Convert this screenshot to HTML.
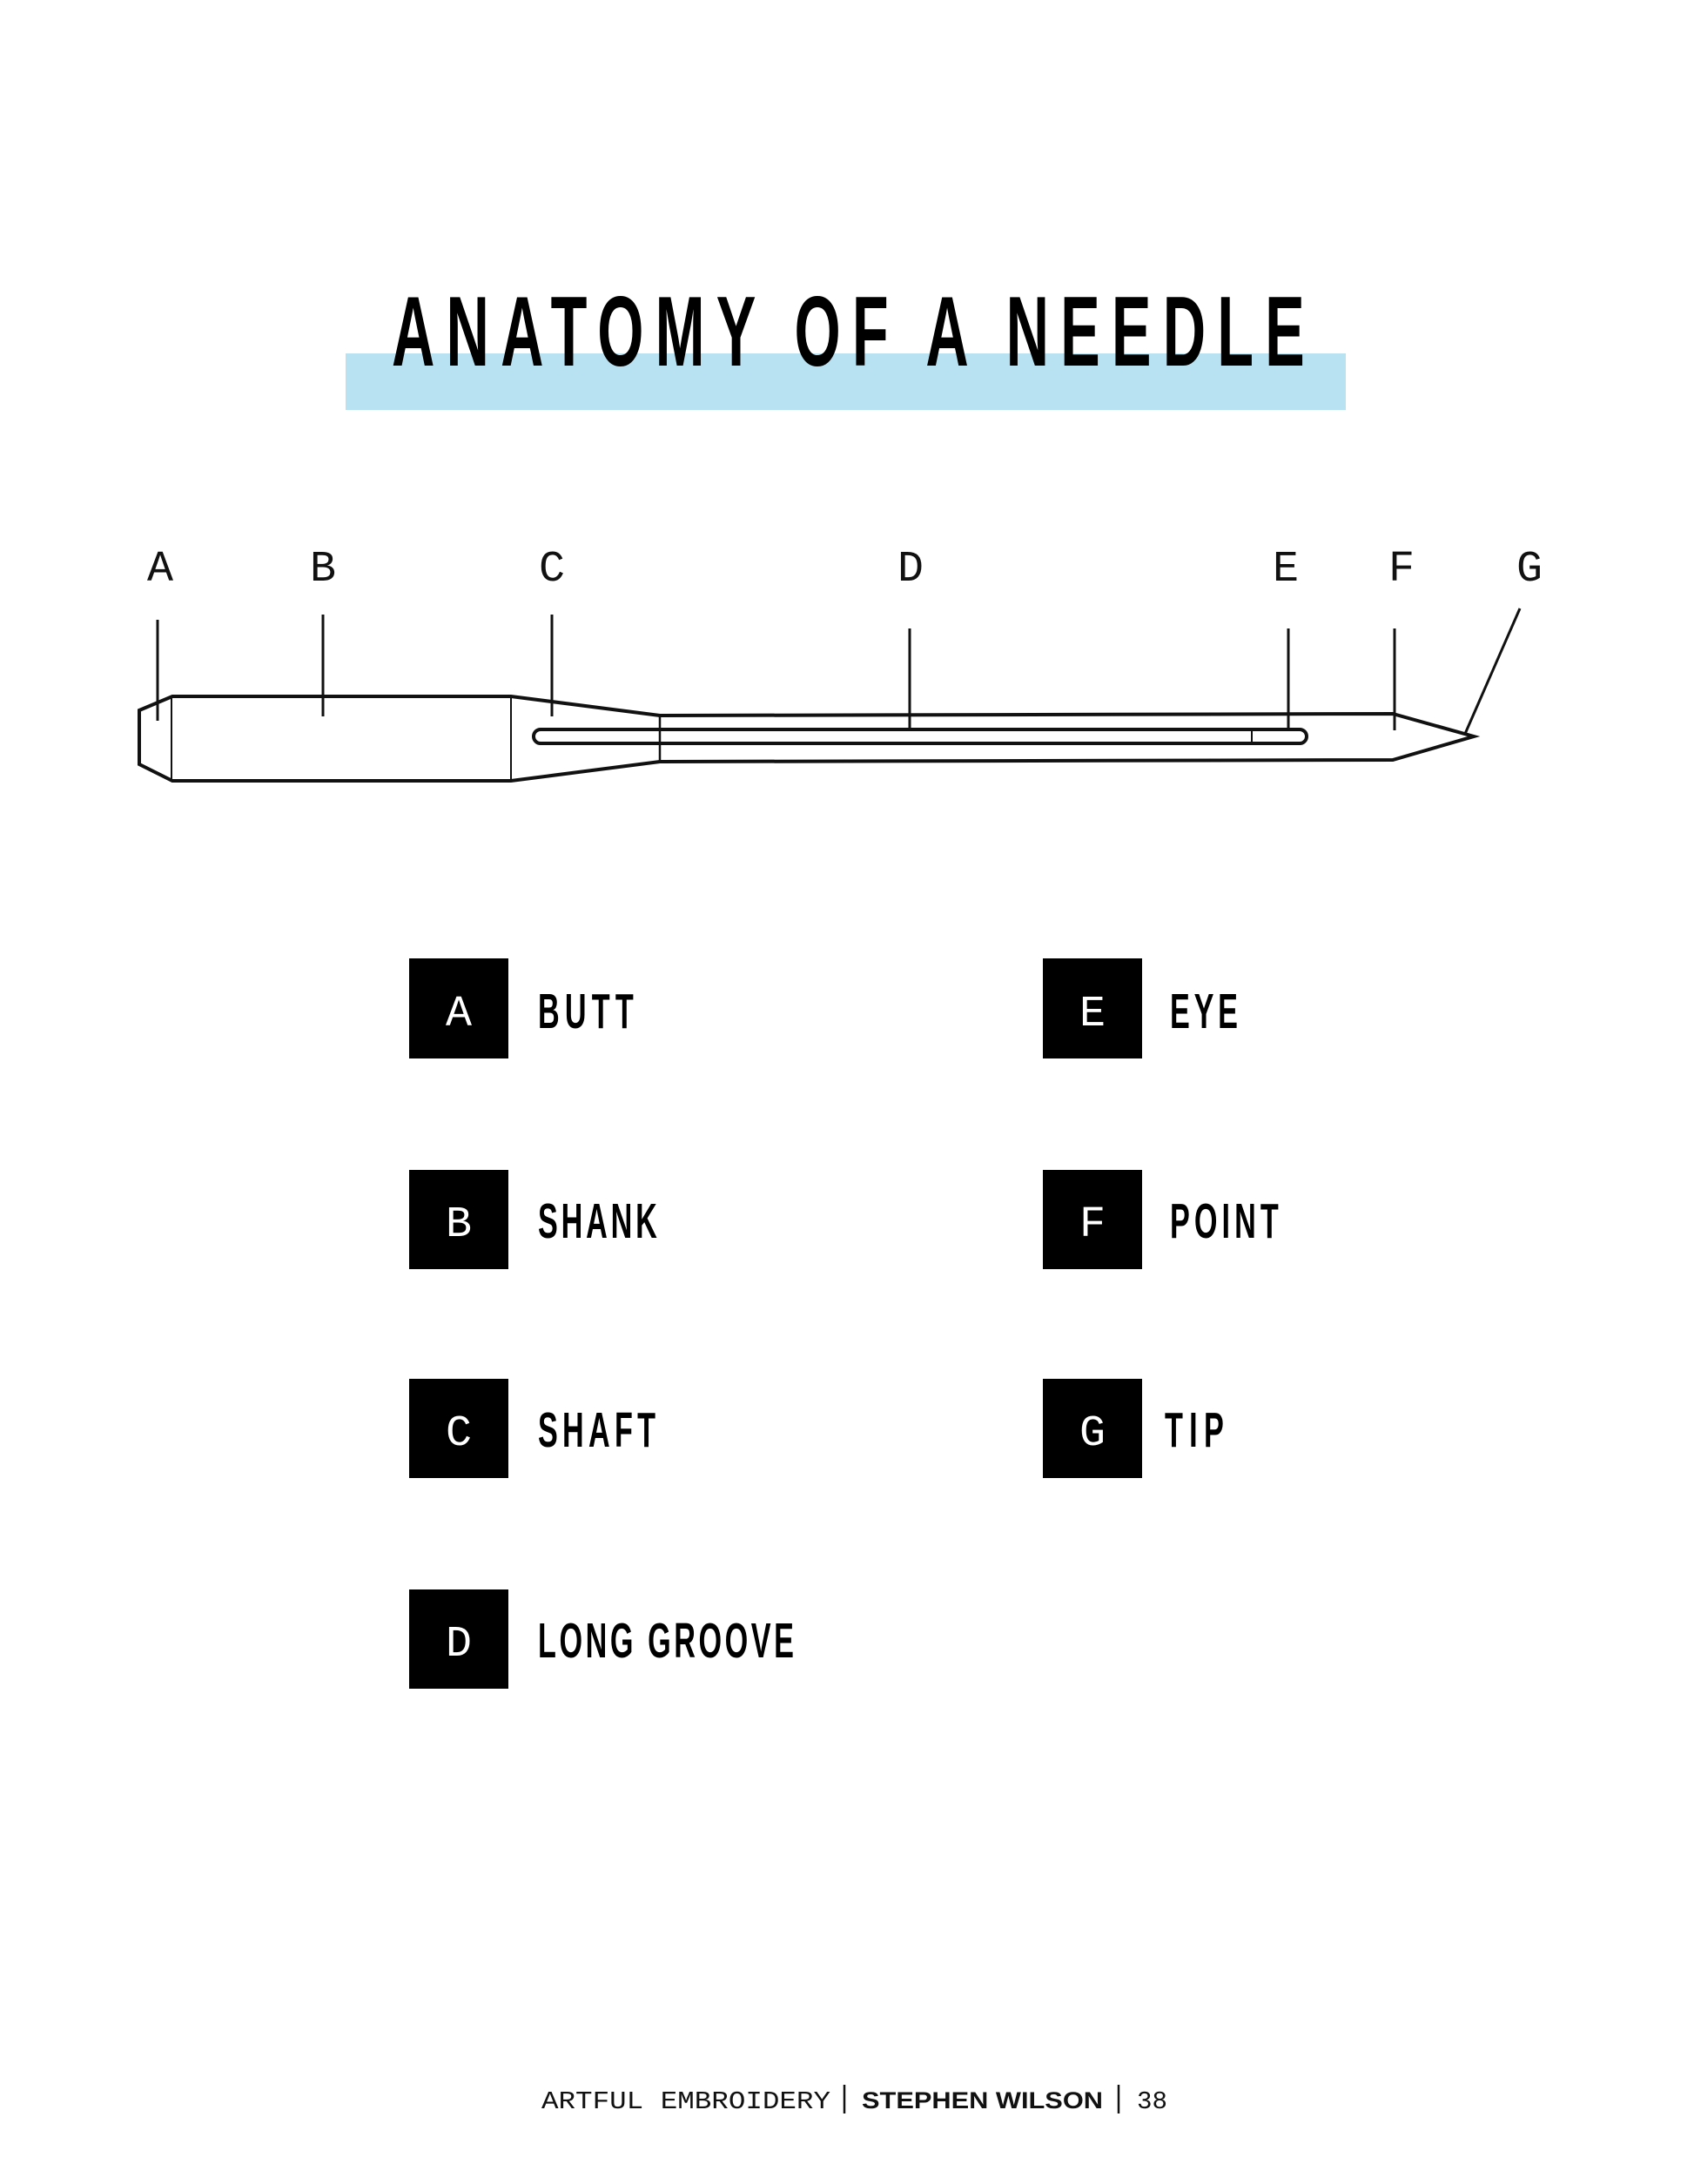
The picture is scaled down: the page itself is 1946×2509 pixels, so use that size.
<!DOCTYPE html>
<html><head><meta charset="utf-8"><style>html,body{margin:0;padding:0;background:#fff}svg{display:block}</style></head>
<body>
<svg width="1946" height="2509" viewBox="0 0 1946 2509" xmlns="http://www.w3.org/2000/svg">
<rect width="1946" height="2509" fill="#fff"/>
<rect x="397" y="406" width="1149" height="65" fill="#b8e2f1"/>
<g transform="translate(450 420) scale(0.6 1)">
<text x="0" y="0" font-family="'Liberation Sans Narrow', 'Liberation Sans', sans-serif" font-weight="bold" font-size="114" textLength="1748" lengthAdjust="spacing" fill="#000">ANATOMY OF A NEEDLE</text>
</g>

<g font-family="'Liberation Mono', 'Courier New', monospace" font-size="50" fill="#111" text-anchor="middle">
<text x="184" y="667">A</text><text x="371" y="667">B</text><text x="634" y="667">C</text><text x="1046" y="667">D</text><text x="1477" y="667">E</text><text x="1610" y="667">F</text><text x="1757" y="667">G</text>
</g>
<g stroke="#111" fill="none" stroke-width="3">
<line x1="181" y1="712" x2="181" y2="828"/>
<line x1="371" y1="706" x2="371" y2="823"/>
<line x1="634" y1="706" x2="634" y2="823"/>
<line x1="1045" y1="722" x2="1045" y2="836"/>
<line x1="1480" y1="722" x2="1480" y2="836"/>
<line x1="1602" y1="722" x2="1602" y2="839"/>
<line x1="1746" y1="699" x2="1683" y2="843"/>
</g>
<g stroke="#111" fill="none" stroke-width="4" stroke-linejoin="miter">
<path d="M198 800 L587 800 L758 822 L1600 820 L1693 846 L1600 873 L758 875 L587 897 L198 897 L160 878 L160 816 Z"/>
<line x1="197" y1="800" x2="197" y2="897" stroke-width="2"/>
<line x1="587" y1="800" x2="587" y2="897" stroke-width="2"/>
<line x1="758" y1="822" x2="758" y2="875" stroke-width="2.5"/>
<rect x="613" y="838" width="888" height="16" rx="8"/>
<line x1="1438" y1="838" x2="1438" y2="854" stroke-width="2"/>
</g>

<g fill="#000">
<rect x="470" y="1101" width="114" height="115"/>
<rect x="470" y="1344" width="114" height="114"/>
<rect x="470" y="1584" width="114" height="114"/>
<rect x="470" y="1826" width="114" height="114"/>
<rect x="1198" y="1101" width="114" height="115"/>
<rect x="1198" y="1344" width="114" height="114"/>
<rect x="1198" y="1584" width="114" height="114"/>
</g>
<g font-family="'Liberation Mono', 'Courier New', monospace" font-size="50" fill="#fff" text-anchor="middle">
<text x="527" y="1178">A</text><text x="527" y="1420">B</text><text x="527" y="1660">C</text><text x="527" y="1902">D</text>
<text x="1255" y="1178">E</text><text x="1255" y="1420">F</text><text x="1255" y="1660">G</text>
</g>
<g font-family="'Liberation Sans Narrow', 'Liberation Sans', sans-serif" font-weight="bold" font-size="57" fill="#000">
<g transform="translate(618 1181) scale(0.6 1)"><text textLength="183" lengthAdjust="spacing">BUTT</text></g>
<g transform="translate(618 1422) scale(0.6 1)"><text textLength="228" lengthAdjust="spacing">SHANK</text></g>
<g transform="translate(618 1662) scale(0.6 1)"><text textLength="225" lengthAdjust="spacing">SHAFT</text></g>
<g transform="translate(618 1904) scale(0.6 1)"><text textLength="490" lengthAdjust="spacing">LONG GROOVE</text></g>
<g transform="translate(1344 1181) scale(0.6 1)"><text textLength="130" lengthAdjust="spacing">EYE</text></g>
<g transform="translate(1344 1422) scale(0.6 1)"><text textLength="208" lengthAdjust="spacing">POINT</text></g>
<g transform="translate(1338 1662) scale(0.6 1)"><text textLength="113" lengthAdjust="spacing">TIP</text></g>
</g>

<text x="622" y="2422" font-family="'Liberation Mono', 'Courier New', monospace" font-size="29" fill="#111" textLength="332" lengthAdjust="spacingAndGlyphs">ARTFUL EMBROIDERY</text>
<line x1="970" y1="2395" x2="970" y2="2428" stroke="#111" stroke-width="2.5"/>
<text x="990" y="2422" font-family="'Liberation Sans', sans-serif" font-weight="bold" font-size="27" fill="#111" textLength="277" lengthAdjust="spacingAndGlyphs">STEPHEN WILSON</text>
<line x1="1285" y1="2395" x2="1285" y2="2428" stroke="#111" stroke-width="2.5"/>
<text x="1306" y="2422" font-family="'Liberation Mono', 'Courier New', monospace" font-size="29" fill="#111" textLength="35" lengthAdjust="spacingAndGlyphs">38</text>
</svg>
</body></html>
